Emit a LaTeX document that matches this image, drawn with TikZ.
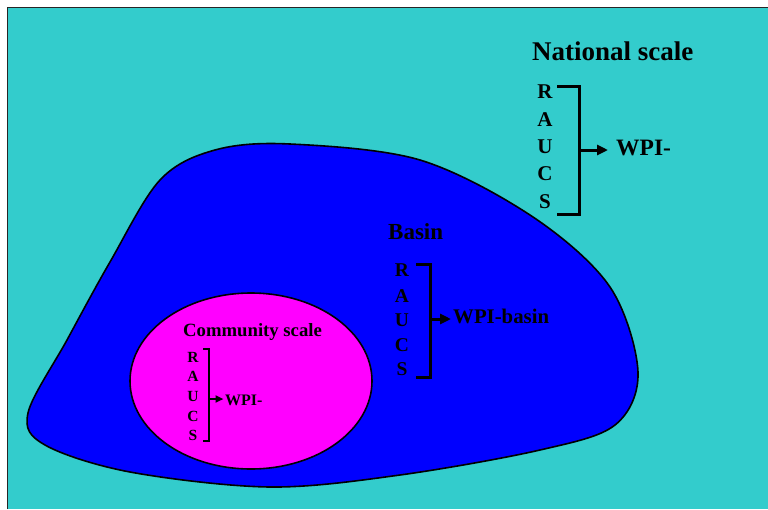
\documentclass[tikz,border=0pt]{standalone}
\usepackage{fontspec}
\setmainfont{Liberation Serif}
\usetikzlibrary{arrows.meta,shapes.geometric}
\definecolor{bgcyan}{HTML}{33CCCC}
\definecolor{basinblue}{HTML}{0000FF}
\definecolor{commpink}{HTML}{FF00FF}
\begin{document}
\begin{tikzpicture}[x=1pt,y=-1pt,
  lbl/.style={inner sep=0pt, font=\bfseries\fontsize{#1}{#1}\selectfont},
  brk/.style={line width=#1, line join=miter},
  arr/.style={line width=#1, -{Triangle[length=11pt,width=10pt]}},
  sarr/.style={line width=#1, -{Triangle[length=8pt,width=7pt]}},
  outline/.style={draw=black, line width=1.6pt}]
\useasboundingbox (0,0) rectangle (768,509);
\fill[white] (0,0) rectangle (768,509);
\fill[bgcyan] (7.5,7.5) rectangle (768,509);
\draw[line width=1.6pt, black!85] (7.5,509) -- (7.5,7.5) -- (768,7.5);

% basin blob
\draw[outline, fill=basinblue] plot[smooth cycle, tension=0.55] coordinates {
 (290,144) (420,160) (533,217) (610,287) (638,372) (615,425)
 (540,450) (400,475) (270,487) (130,472) (45,445) (28,413)
 (67,340) (110,262) (160,180) (215,150)};

% community ellipse
\node[ellipse, outline, fill=commpink, minimum width=242pt, minimum height=176pt, inner sep=0pt] (comm) at (251,381) {};

% National scale
\node[lbl=27, anchor=base west] (ntitle) at (532,60) {National scale};
\node[lbl=21] (nR) at (545,92) {R};
\node[lbl=21] (nA) at (545,120) {A};
\node[lbl=21] (nU) at (545,147) {U};
\node[lbl=21] (nC) at (545,174) {C};
\node[lbl=21] (nS) at (545,202) {S};
\coordinate (nt1) at (557,86);
\coordinate (nt2) at (579,86);
\coordinate (nb2) at (579,214);
\coordinate (nb1) at (557,214);
\coordinate (nmid) at (579,150);
\node[lbl=23.5, anchor=base west] (nwpi) at (616,155) {WPI-};
\draw[brk=3pt] (nt1) -- (nt2) -- (nb2) -- (nb1);
\draw[arr=3pt, shorten >=8pt] (nmid) -- (nmid -| nwpi.west);

% Basin
\node[lbl=23, anchor=base west] (btitle) at (388,239) {Basin};
\node[lbl=19.5] (bR) at (402,270) {R};
\node[lbl=19.5] (bA) at (402,296) {A};
\node[lbl=19.5] (bU) at (402,320) {U};
\node[lbl=19.5] (bC) at (402,345) {C};
\node[lbl=19.5] (bS) at (402,369) {S};
\coordinate (bt1) at (416,264);
\coordinate (bt2) at (430,264);
\coordinate (bb2) at (430,377);
\coordinate (bb1) at (416,377);
\coordinate (bmid) at (430,319);
\node[lbl=20.8, anchor=base west] (bwpi) at (453,323) {WPI-basin};
\draw[brk=3pt] (bt1) -- (bt2) -- (bb2) -- (bb1);
\draw[arr=3pt, shorten >=2pt] (bmid) -- (bmid -| bwpi.west);

% Community scale
\node[lbl=18.7, anchor=base west] (ctitle) at (183,336) {Community scale};
\node[lbl=15.5] (cR) at (193,357) {R};
\node[lbl=15.5] (cA) at (193,376) {A};
\node[lbl=15.5] (cU) at (193,396) {U};
\node[lbl=15.5] (cC) at (193,416) {C};
\node[lbl=15.5] (cS) at (193,435) {S};
\coordinate (ct1) at (203,349);
\coordinate (ct2) at (209,349);
\coordinate (cb2) at (209,441);
\coordinate (cb1) at (203,441);
\coordinate (cmid) at (209,399);
\node[lbl=16, anchor=base west] (cwpi) at (225,405) {WPI-};
\draw[brk=2pt] (ct1) -- (ct2) -- (cb2) -- (cb1);
\draw[sarr=2pt, shorten >=1.5pt] (cmid) -- (cmid -| cwpi.west);
\end{tikzpicture}
\end{document}
